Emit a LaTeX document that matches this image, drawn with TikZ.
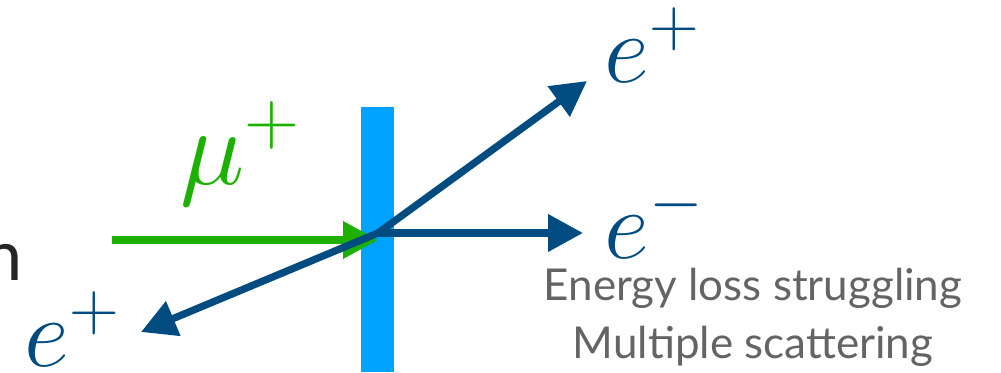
\RequirePackage{fix-cm}
\documentclass[tikz,border=0pt]{standalone}
\usepackage{fontspec}
\setsansfont{Lato}
\usetikzlibrary{arrows.meta}
\definecolor{muongreen}{RGB}{30,176,0}
\definecolor{trackblue}{RGB}{0,75,128}
\definecolor{targetblue}{RGB}{0,162,255}
\definecolor{notegray}{RGB}{100,100,100}

\begin{document}
\begin{tikzpicture}[x=0.02cm,y=-0.02cm,
  track/.style={line width=0.145cm,-{Triangle[length=0.7cm,width=0.72cm]}},
  lbl/.style={anchor=base west,inner sep=0pt,font=\fontsize{56}{56}\selectfont},
  note/.style={anchor=base,inner sep=0pt,text=notegray,font=\sffamily\fontsize{25}{25}\selectfont}]
  \useasboundingbox (0,0) rectangle (1001,372);
  \fill[targetblue] (361,107) rectangle (394,372);
  \coordinate (V) at (378,233);
  \coordinate (src) at (112,240);
  \coordinate (G) at (378,240);
  \coordinate (A) at (587,81);
  \coordinate (B) at (583,233);
  \coordinate (C) at (141,332);
  \draw[track,muongreen] (src) -- (G);
  \foreach \tip in {A,B,C}
    \draw[track,trackblue] (V) -- (\tip);
  \node[lbl,text=trackblue] (ep1) at (604,82) {$e^+$};
  \node[lbl,text=trackblue] (em) at (604,258) {$e^-$};
  \node[lbl,text=trackblue] (ep2) at (24,366) {$e^+$};
  \node[lbl,text=muongreen,font=\fontsize{62}{62}\selectfont] (mu) at (180,184) {$\mu^+$};
  \node[anchor=base east,inner sep=0pt,text=black!85,font=\sffamily\fontsize{40}{40}\selectfont] (cut) at (23,280) {n};
  \node[note] (loss) at (753,300) {Energy loss struggling};
  \node[note] (scat) at (753,358) {Multiple scattering};
\end{tikzpicture}
\end{document}
